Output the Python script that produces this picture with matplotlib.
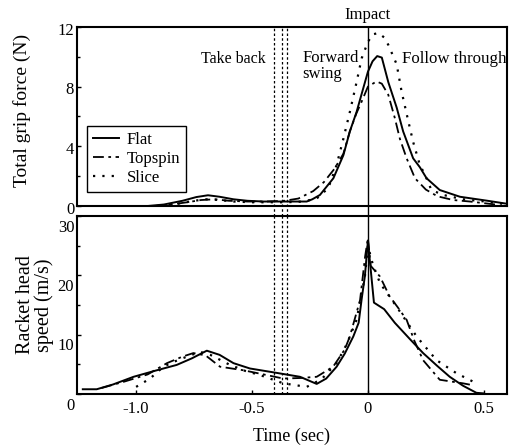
import matplotlib
matplotlib.use("Agg")
import matplotlib.pyplot as plt
from matplotlib.transforms import ScaledTranslation

plt.rcParams['font.family'] = ['Liberation Serif', 'DejaVu Serif']

# ---------------- data ----------------
# Top panel: total grip force (N)
t_force_flat = [-0.95, -0.88, -0.80, -0.74, -0.69, -0.64, -0.58, -0.52, -0.45, -0.38, -0.32,
                -0.264, -0.24, -0.207, -0.149, -0.106, -0.078, -0.049, -0.02, 0.0, 0.02, 0.04,
                0.06, 0.088, 0.124, 0.152, 0.195, 0.224, 0.253, 0.31, 0.397, 0.512, 0.6]
f_flat = [0.0, 0.1, 0.35, 0.6, 0.72, 0.62, 0.45, 0.35, 0.3, 0.3, 0.3,
          0.3, 0.45, 0.74, 1.86, 3.4, 5.0, 6.3, 7.9, 9.0, 9.7, 10.05,
          9.95, 8.3, 6.6, 5.0, 3.2, 2.6, 1.86, 1.07, 0.62, 0.36, 0.15]

t_force_topspin = [-0.92, -0.85, -0.78, -0.72, -0.66, -0.6, -0.52, -0.44, -0.36, -0.3, -0.236,
                   -0.19, -0.144, -0.106, -0.078, -0.05, -0.027, 0.0, 0.037, 0.06, 0.088, 0.116,
                   0.138, 0.167, 0.203, 0.25, 0.3, 0.368, 0.44, 0.55]
f_topspin = [0.0, 0.1, 0.25, 0.4, 0.45, 0.35, 0.3, 0.3, 0.35, 0.5, 1.0,
             1.6, 2.5, 3.5, 5.0, 6.2, 7.0, 8.0, 8.35, 8.2, 7.45, 5.9,
             4.5, 3.2, 1.86, 1.1, 0.65, 0.4, 0.3, 0.1]

t_force_slice = [-0.9, -0.82, -0.75, -0.7, -0.64, -0.58, -0.5, -0.42, -0.35, -0.28, -0.221,
                 -0.171, -0.135, -0.106, -0.078, -0.049, -0.027, 0.0, 0.02, 0.045, 0.07, 0.088,
                 0.124, 0.145, 0.174, 0.195, 0.224, 0.246, 0.274, 0.325, 0.411, 0.512, 0.58]
f_slice = [0.0, 0.15, 0.35, 0.45, 0.4, 0.3, 0.25, 0.25, 0.25, 0.3, 0.5,
           1.2, 2.75, 4.5, 6.3, 8.3, 9.9, 11.0, 11.5, 11.6, 11.3, 10.8,
           9.5, 7.7, 5.7, 4.3, 2.75, 2.1, 1.07, 0.74, 0.45, 0.29, 0.15]

# Bottom panel: racket head speed (m/s)
t_speed_flat = [-1.23, -1.17, -1.10, -1.011, -0.92, -0.825, -0.76, -0.695, -0.64, -0.58, -0.509,
                -0.4, -0.293, -0.221, -0.18, -0.135, -0.1, -0.063, -0.04, -0.027, -0.013, -0.004,
                0.0, 0.026, 0.07, 0.116, 0.18, 0.238, 0.3, 0.353, 0.41, 0.468, 0.5]
v_flat = [0.8, 0.8, 1.6, 2.9, 3.9, 4.9, 6.0, 7.3, 6.6, 5.2, 4.3,
          3.6, 2.9, 1.7, 2.6, 4.6, 6.8, 9.7, 12.0, 16.0, 19.9, 24.0,
          25.8, 15.4, 14.3, 12.0, 9.3, 6.9, 4.7, 2.9, 1.4, 0.2, 0.1]

t_speed_topspin = [-1.15, -1.05, -0.95, -0.867, -0.80, -0.753, -0.70, -0.638, -0.537, -0.45,
                   -0.365, -0.29, -0.221, -0.15, -0.1, -0.078, -0.034, -0.012, 0.0, 0.012,
                   0.052, 0.093, 0.129, 0.167, 0.2, 0.238, 0.31, 0.41, 0.45]
v_topspin = [1.0, 2.1, 3.3, 5.2, 6.3, 6.9, 6.5, 4.6, 4.0, 3.3,
             2.6, 2.7, 2.9, 4.6, 7.5, 9.7, 15.8, 23.2, 26.3, 21.6,
             19.8, 16.5, 14.6, 12.5, 9.0, 5.7, 2.4, 1.8, 1.5]

t_speed_slice = [-1.0, -0.94, -0.882, -0.839, -0.781, -0.724, -0.68, -0.6, -0.53, -0.466,
                 -0.365, -0.264, -0.2, -0.135, -0.09, -0.049, -0.013, 0.0, 0.02, 0.052,
                 0.124, 0.21, 0.296, 0.382, 0.468]
v_slice = [1.2, 2.6, 4.6, 5.4, 6.3, 7.1, 6.6, 5.0, 3.9, 3.2,
           1.8, 1.2, 2.5, 5.2, 8.5, 12.5, 19.8, 25.0, 22.0, 18.7,
           14.7, 9.7, 5.7, 3.5, 1.8]

series_labels = ["Flat", "Topspin", "Slice"]
phase_lines = [-0.404, -0.369, -0.35]
impact_time = 0.0

force_ticks = [0, 4, 8, 12]
speed_ticks = [0, 10, 20, 30]
time_ticks = [-1.0, -0.5, 0.0, 0.5]
time_ticklabels = ["-1.0", "-0.5", "0", "0.5"]

# ---------------- figure ----------------
W, H = 510, 448
fig = plt.figure(figsize=(W / 100, H / 100), dpi=100)

def frac_axes(x0, y0, x1, y1):
    return fig.add_axes([x0 / W, 1 - y1 / H, (x1 - x0) / W, (y1 - y0) / H])

ax1 = frac_axes(77, 27, 507, 206)
ax2 = frac_axes(77, 216, 507, 394)

styles = [dict(color='black', lw=1.4, linestyle='-'),
          dict(color='black', lw=1.3, linestyle=(0, (6, 2.5, 1.5, 2.5))),
          dict(color='black', lw=1.6, linestyle=(0, (1, 3.2)))]

xlim = (-1.255, 0.6)

for ax in (ax1, ax2):
    for s in ax.spines.values():
        s.set_linewidth(1.5)
    ax.set_xlim(*xlim)
    ax.tick_params(direction='in', length=3, width=1, labelsize=12)
    ax.tick_params(which='minor', direction='in', length=2, width=1)

# top panel
ax1.plot(t_force_flat, f_flat, label=series_labels[0], **styles[0])
ax1.plot(t_force_topspin, f_topspin, label=series_labels[1], **styles[1])
ax1.plot(t_force_slice, f_slice, label=series_labels[2], **styles[2])
ax1.set_ylim(0, 12)
ax1.set_yticks(force_ticks)
ax1.set_yticklabels([str(v) for v in force_ticks])
ax1.set_yticks([2, 6, 10], minor=True)
ax1.set_xticks([])
ax1.tick_params(axis='y', pad=2)

# bottom panel
ax2.plot(t_speed_flat, v_flat, **styles[0])
ax2.plot(t_speed_topspin, v_topspin, **styles[1])
ax2.plot(t_speed_slice, v_slice, **styles[2])
ax2.set_ylim(0, 30)
ax2.set_yticks(speed_ticks)
ax2.set_yticklabels([str(v) for v in speed_ticks])
ax2.set_yticks([5, 15, 25], minor=True)
ax2.set_xticks(time_ticks)
ax2.set_xticklabels(time_ticklabels)
ax2.tick_params(axis='x', pad=5)
ax2.tick_params(axis='y', pad=2)

# shift y tick labels slightly down as in the scan
for lab in ax1.get_yticklabels():
    lab.set_transform(lab.get_transform() + ScaledTranslation(0, -1.5 / 100, fig.dpi_scale_trans))
for lab in ax2.get_yticklabels():
    lab.set_transform(lab.get_transform() + ScaledTranslation(0, -9.5 / 100, fig.dpi_scale_trans))

# vertical phase lines (span both panels and the gap)
gap = 10 / 179
for x in phase_lines:
    ax1.axvline(x, ymin=-gap, ymax=1, color='black', lw=0.9, linestyle=(0, (2, 1.8)), clip_on=False)
    ax2.axvline(x, ymin=0, ymax=1, color='black', lw=0.9, linestyle=(0, (2, 1.8)))
ax1.axvline(impact_time, ymin=-gap, ymax=1, color='black', lw=1.0, clip_on=False)
ax2.axvline(impact_time, color='black', lw=1.0)

# annotations
ax1.text(-0.44, 9.85, "Take back", ha='right', va='center', fontsize=11.5)
ax1.text(-0.284, 10.45, "Forward\nswing", ha='left', va='top', fontsize=12, linespacing=0.95)
ax1.text(0.148, 9.85, "Follow through", ha='left', va='center', fontsize=12.2)
ax1.text(impact_time, 12.3, "Impact", ha='center', va='bottom', fontsize=12)

leg = ax1.legend(loc='lower left', bbox_to_anchor=(0.023, 0.078), borderaxespad=0,
                 fancybox=False, edgecolor='black', framealpha=1, fontsize=12,
                 handlelength=1.55, handletextpad=0.5, labelspacing=0.18, borderpad=0.35)
leg.get_frame().set_linewidth(1.0)

# axis labels
fig.text(22 / W, 1 - 110 / H, "Total grip force (N)", rotation=90, ha='center', va='center', fontsize=14)
fig.text(35 / W, 1 - 305 / H, "Racket head\nspeed (m/s)", rotation=90, ha='center', va='center',
         fontsize=14.5, linespacing=0.9)
fig.text(292 / W, 1 - 436 / H, "Time (sec)", ha='center', va='center', fontsize=13)

fig.savefig("out.png", dpi=100)
